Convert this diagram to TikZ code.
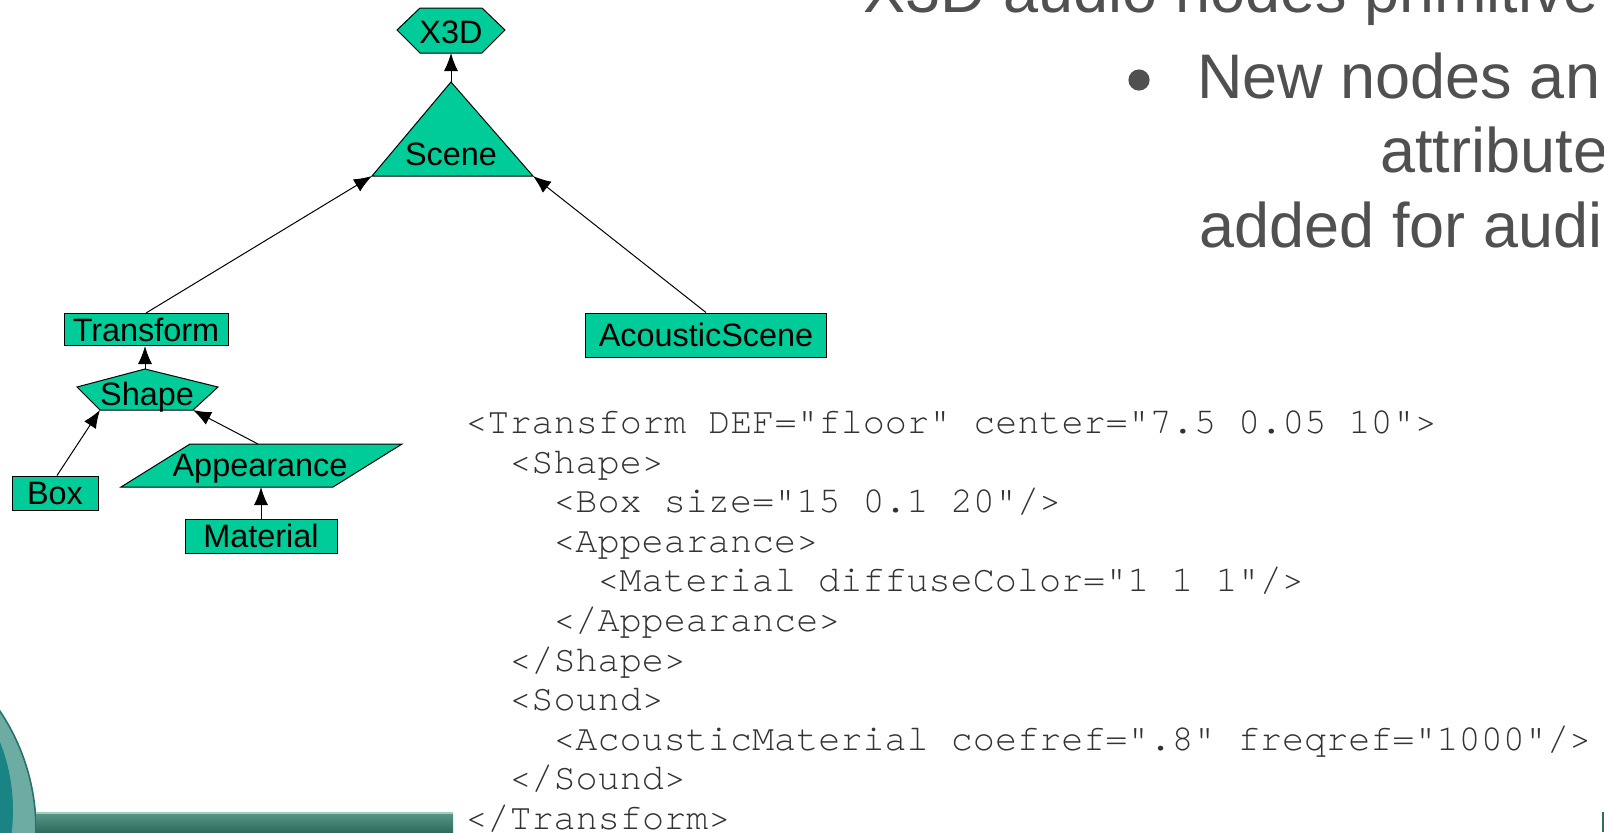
\documentclass[tikz,border=0pt]{standalone}
\usepackage{fontspec}
\setmainfont{Liberation Sans}
\setmonofont{texgyrecursor-regular.otf}[Ligatures=CommonOff]
\usepackage{tikz}
\usetikzlibrary{arrows.meta}

\definecolor{nodegreen}{RGB}{0,204,153}
\definecolor{slidegray}{RGB}{80,80,80}
\definecolor{codegray}{RGB}{50,50,50}
\definecolor{ringteal}{RGB}{108,172,163}
\definecolor{ringedge}{RGB}{40,115,105}
\definecolor{discteal}{RGB}{26,132,132}
\definecolor{bartop}{RGB}{88,150,135}
\definecolor{barbottom}{RGB}{46,108,95}
\definecolor{barline}{RGB}{160,205,190}

\begin{document}
\begin{tikzpicture}[x=0.5pt, y=-0.5pt,
    box/.style={draw=black, line width=0.5pt, fill=nodegreen, inner sep=0pt, font=\fontsize{16.2}{18}\selectfont},
    shp/.style={draw=black, line width=0.5pt, fill=nodegreen},
    lbl/.style={anchor=base, inner sep=0pt, font=\fontsize{16.2}{18}\selectfont},
    link/.style={draw=black, line width=0.5pt, -{Latex[length=9pt,width=7pt]}},
    codeline/.style={anchor=base west, inner sep=0pt, text=codegray, font=\ttfamily\fontsize{18.4}{20}\selectfont},
    slide/.style={anchor=base west, inner sep=0pt, text=slidegray, font=\fontsize{31.5}{36}\selectfont}]
	\useasboundingbox (0,0) rectangle (1604,832);
	\clip (0,0) rectangle (1604,832);

	% corner decoration
	\fill[ringteal] (-178,830) circle[radius=107pt];
	\draw[ringedge, line width=0.8pt] (-178,830) circle[radius=107pt];
	\fill[discteal] (-170,810) circle[radius=91.5pt];
	\shade[top color=bartop, bottom color=barbottom] (36,813) rectangle (453,832);
	\draw[barline, line width=0.6pt] (36,813) -- (453,813);
	\fill[barbottom] (1602,812) rectangle (1604,832);

	% slide text
	\node[slide] (title) at (863,12) {X3D audio nodes primitive};
	\fill[slidegray] (1139,80) circle[radius=5.3pt];
	\node[slide] (line1) at (1197,98) {New nodes an};
	\node[slide] (line2) at (1380,172) {attribute};
	\node[slide] (line3) at (1199,247) {added for audi};

	% scene graph
	\path[shp] (397,30) -- (420,8) -- (482,8) -- (505,30) -- (482,53) -- (420,53) -- cycle;
	\coordinate (x3d-b) at (451,53);
	\node[lbl] (x3d) at (451,43) {X3D};

	\path[shp] (451,82) coordinate (scene-top) -- (533,176) coordinate (scene-r) -- (372,176) coordinate (scene-l) -- cycle;
	\node[lbl] (scene) at (451,165) {Scene};

	\node[box, minimum width=82pt, minimum height=16pt] (transform) at (146,329.5) {Transform};
	\node[box, minimum width=120.5pt, minimum height=22pt] (acoustic) at (706,335) {AcousticScene};

	\path[shp] (145,369) coordinate (shape-top) -- (218,387) -- (193,410) coordinate (shape-br) -- (100,410) coordinate (shape-bl) -- (77,387) -- cycle;
	\node[lbl] (shape) at (147,405) {Shape};

	\node[box, minimum width=43pt, minimum height=17pt] (box) at (55,493) {Box};

	\path[shp] (190,444) -- (402,444) -- (333,487) -- (121,487) -- cycle;
	\coordinate (app-top) at (258,444);
	\coordinate (app-b) at (261,487);
	\node[lbl] (appearance) at (260,476) {Appearance};

	\node[box, minimum width=76pt, minimum height=17pt] (material) at (261,536) {Material};

	\draw[link] (scene-top) -- (x3d-b);
	\draw[link] (transform.north) -- (scene-l);
	\draw[link] (acoustic.north) -- (scene-r);
	\draw[link] (shape-top) -- (shape-top |- transform.south);
	\draw[link] ([xshift=1pt]box.north) -- (shape-bl);
	\draw[link] (app-top) -- (shape-br);
	\draw[link] (material.north) -- (app-b);

	% x3d source
	\node[codeline] (code1) at (465,433) {<Transform DEF="floor" center="7.5 0.05 10">};
	\node[codeline] (code2) at (509,473) {<Shape>};
	\node[codeline] (code3) at (553,512) {<Box size="15 0.1 20"/>};
	\node[codeline] (code4) at (553,552) {<Appearance>};
	\node[codeline] (code5) at (597,591) {<Material diffuseColor="1 1 1"/>};
	\node[codeline] (code6) at (553,631) {</Appearance>};
	\node[codeline] (code7) at (509,671) {</Shape>};
	\node[codeline] (code8) at (509,710) {<Sound>};
	\node[codeline] (code9) at (553,750) {<AcousticMaterial coefref=".8" freqref="1000"/>};
	\node[codeline] (code10) at (509,789) {</Sound>};
	\node[codeline] (code11) at (465,829) {</Transform>};
\end{tikzpicture}
\end{document}
